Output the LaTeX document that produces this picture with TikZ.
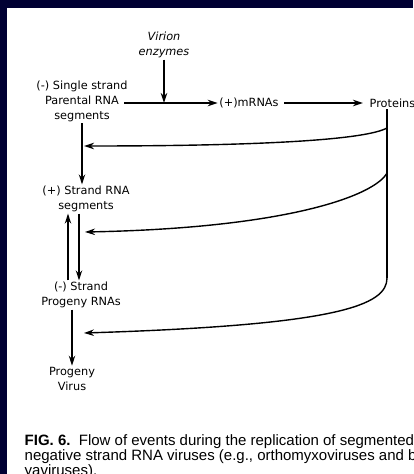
\documentclass[tikz,border=0pt]{standalone}
\usepackage{fontspec}
\setmainfont{Liberation Sans}
\newfontfamily\labelfont{DejaVu Sans}
\usetikzlibrary{arrows.meta,positioning}
\definecolor{slidenavy}{RGB}{0,0,51}
\tikzset{lbl/.style={font=\labelfont\fontsize{11.3}{15}\selectfont, align=center, inner sep=1pt},
         ital/.style={lbl, font=\labelfont\itshape\fontsize{11.3}{15}\selectfont}}

\begin{document}
\begin{tikzpicture}[x=1pt,y=-1pt,>={Stealth[length=10pt,width=6.5pt]},line width=1.4pt]
  \useasboundingbox (0,0) rectangle (413,474);
  \clip (0,0) rectangle (413,474);
  \fill[slidenavy] (0,0) rectangle (413,474);
  \fill[white] (7,8) rectangle (413,474);

  \node[ital]              (virion)   at (164,45)  {Virion\\enzymes};
  \node[lbl]               (parental) at (82,101)  {(-) Single strand\\Parental RNA\\segments};
  \node[lbl]               (mrnas)    at (249,103) {(+)mRNAs};
  \node[lbl,anchor=west]   (proteins) at (368,103) {Proteins};
  \node[lbl]               (plusrna)  at (86,199)  {(+) Strand RNA\\segments};
  \node[lbl]               (minusrna) at (81,295)  {(-) Strand\\Progeny RNAs};
  \node[lbl]               (virus)    at (72,379)  {Progeny\\Virus};

  \coordinate (b1)   at (387,128);
  \coordinate (b2)   at (387,173);
  \coordinate (drop) at (387,278);
  \coordinate (t1)   at (84,146);
  \coordinate (t2)   at (85,232);
  \coordinate (t3)   at (84,333);

  % top row
  \draw[->] (virion.south) -- (virion.south |- mrnas.west);
  \draw[->] ([xshift=-5pt]mrnas.west -| parental.east) -- (mrnas.west);
  \draw[->,shorten <=4pt,shorten >=5pt] (mrnas.east) -- (proteins.west);

  % proteins feed back
  \draw (drop |- proteins.south) -- (drop);
  \draw[->] (b1) .. controls (365,140) and (260,146) .. (t1);
  \draw[->] (b2) .. controls (375,195) and (290,228) .. (t2);
  \draw[->] (drop) .. controls (387,305) and (340,325) .. (t3);

  % left column
  \draw[->] (parental.south) -- (parental.south |- plusrna.north);
  \draw[->] ([xshift=-7pt]plusrna.south) -- ([xshift=-7pt]plusrna.south |- minusrna.north);
  \draw[->] ([xshift=-18pt]plusrna.south |- minusrna.north) -- ([xshift=-18pt]plusrna.south);
  \draw[->] (minusrna.south -| virus.north) -- (virus.north);

  \node[anchor=north west, inner sep=0, align=left, font=\fontsize{15}{13.5}\selectfont] (caption) at (24,434)
    {\textbf{FIG. 6.}\ \ Flow of events during the replication of segmented\\negative strand RNA viruses (e.g., orthomyxoviruses and bun-\\yaviruses).};
\end{tikzpicture}
\end{document}
